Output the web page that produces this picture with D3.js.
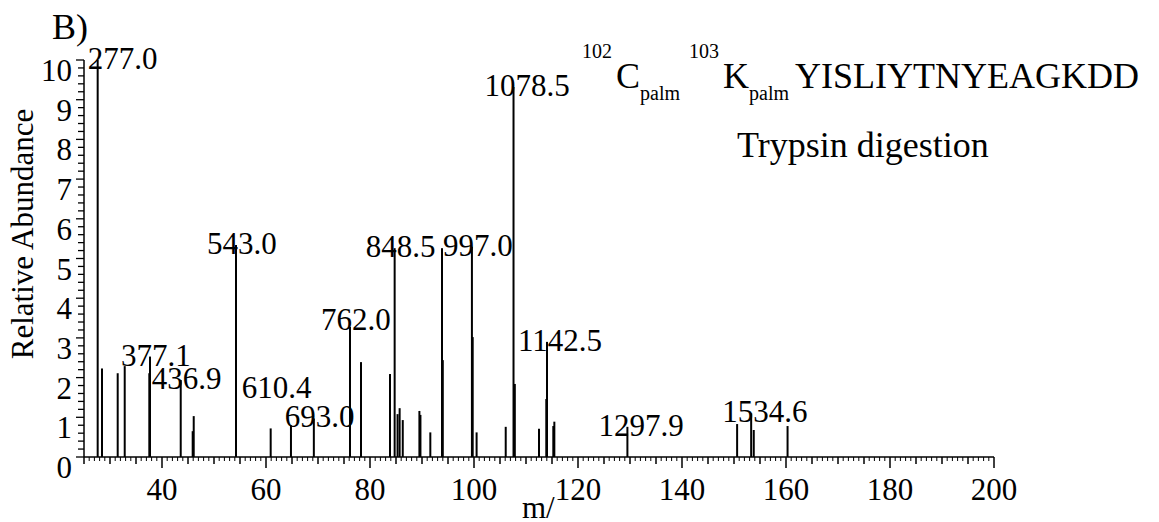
<!DOCTYPE html>
<html>
<head>
<meta charset="utf-8">
<script src="https://cdn.jsdelivr.net/npm/d3@7"></script>
<style>
  html, body { margin: 0; padding: 0; background: #fff; }
  svg text { font-family: "Liberation Serif", "DejaVu Serif", serif; }
</style>
</head>
<body>
<div id="chart"></div>
<script>
// peak positions on the x axis and their relative abundance
const peakX = [27.63, 28.46, 31.48, 32.83, 37.56, 37.69, 43.6, 45.9, 46.1, 54.23,
               60.9, 64.8, 69.2, 76.15, 78.27, 83.85, 84.74, 85.3, 85.7, 86.3,
               89.5, 89.7, 91.6, 93.85, 94.0, 99.6, 99.75, 100.5, 106.1, 107.6,
               107.85, 112.5, 113.9, 114.04, 115.25, 115.45, 129.5, 150.6, 153.3, 153.8,
               160.3];
const peakY = [10.0, 2.23, 2.11, 2.29, 2.11, 2.53, 1.94, 0.65, 1.03, 5.34,
               0.72, 0.8, 0.97, 3.28, 2.39, 2.09, 5.26, 1.08, 1.23, 0.93,
               1.16, 1.06, 0.62, 5.26, 2.44, 5.3, 3.02, 0.62, 0.76, 9.32,
               1.84, 0.71, 1.46, 2.9, 0.78, 0.89, 0.76, 0.83, 1.1, 0.68,
               0.78];

// annotated peaks: text and the peak they belong to
const labelText = ["277.0", "377.1", "436.9", "543.0", "610.4", "693.0", "762.0",
                   "848.5", "997.0", "1078.5", "1142.5", "1297.9", "1534.6"];
const labelPeak = [27.63, 37.69, 43.6, 54.23, 60.9, 69.2, 76.15,
                   84.74, 99.6, 107.6, 114.04, 129.5, 153.3];

const xTicks = [40, 60, 80, 100, 120, 140, 160, 180, 200];
const yTicks = [0, 1, 2, 3, 4, 5, 6, 7, 8, 9, 10];

const width = 1159;
const height = 522;
const margin = {top: 60, right: 165, bottom: 65, left: 84};
const serif = '"Liberation Serif", "DejaVu Serif", serif';

const svg = d3.select("#chart").append("svg")
    .attr("width", width)
    .attr("height", height)
    .attr("font-family", serif);

const x = d3.scaleLinear()
    .domain([25, 200])
    .range([margin.left, width - margin.right]);

const y = d3.scaleLinear()
    .domain([0, 10])
    .range([height - margin.bottom, margin.top]);

const y0 = y(0);

// axis lines
svg.append("line")
    .attr("x1", x(25)).attr("x2", x(200))
    .attr("y1", y0).attr("y2", y0)
    .attr("stroke", "#000").attr("stroke-width", 1.5);

svg.append("line")
    .attr("x1", x(25)).attr("x2", x(25))
    .attr("y1", y(10)).attr("y2", y0)
    .attr("stroke", "#000").attr("stroke-width", 1.5);

// x ticks: minor every 1, medium every 5, major every 20
const xMinor = d3.range(25, 201, 1);
svg.append("g").selectAll("line")
    .data(xMinor)
    .join("line")
    .attr("x1", d => x(d)).attr("x2", d => x(d))
    .attr("y1", y0)
    .attr("y2", d => y0 + (d % 20 === 0 ? 11 : d % 5 === 0 ? 7 : 4))
    .attr("stroke", "#000")
    .attr("stroke-width", d => d % 5 === 0 ? 1.5 : 1);

svg.append("g").selectAll("text")
    .data(xTicks)
    .join("text")
    .attr("x", d => x(d))
    .attr("y", y0 + 43)
    .attr("text-anchor", "middle")
    .attr("font-family", serif)
    .style("font-size", "31px")
    .text(d => d);

// y ticks: minor every 0.2, major every 1
const yMinor = d3.range(0, 51).map(i => i / 5);
svg.append("g").selectAll("line")
    .data(yMinor)
    .join("line")
    .attr("x1", d => x(25) - (Math.abs(d - Math.round(d)) < 1e-6 ? 8 : 6))
    .attr("x2", x(25))
    .attr("y1", d => y(d)).attr("y2", d => y(d))
    .attr("stroke", "#000")
    .attr("stroke-width", 1.3);

svg.append("g").selectAll("text")
    .data(yTicks)
    .join("text")
    .attr("x", x(25) - 12)
    .attr("y", d => y(d) + 21)
    .attr("text-anchor", "end")
    .attr("font-family", serif)
    .style("font-size", "31px")
    .text(d => d);

// peaks
svg.append("g").selectAll("line")
    .data(peakX.map((v, i) => ({mz: v, ab: peakY[i]})))
    .join("line")
    .attr("x1", d => x(d.mz)).attr("x2", d => x(d.mz))
    .attr("y1", y0)
    .attr("y2", d => y(d.ab))
    .attr("stroke", "#000")
    .attr("stroke-width", 2);

// peak labels; a few were moved by the original software to avoid overlaps
const nudge = {"277.0": [19, 0], "610.4": [0, -39], "762.0": [0, -6]};
svg.append("g").selectAll("text")
    .data(labelText.map((t, i) => ({t, mz: labelPeak[i], ab: peakY[peakX.indexOf(labelPeak[i])]})))
    .join("text")
    .attr("x", d => x(d.mz) - 29 + (nudge[d.t] ? nudge[d.t][0] : 0))
    .attr("y", d => y(d.ab) + 9 + (nudge[d.t] ? nudge[d.t][1] : 0))
    .attr("font-family", serif)
    .style("font-size", "31px")
    .text(d => d.t);

// axis titles
svg.append("text")
    .attr("x", 522)
    .attr("y", 518)
    .attr("font-family", serif)
    .style("font-size", "31px")
    .text("m/");

svg.append("text")
    .attr("transform", "translate(33,234) rotate(-90)")
    .attr("text-anchor", "middle")
    .attr("font-family", serif)
    .style("font-size", "31px")
    .text("Relative Abundance");

svg.append("text")
    .attr("x", 52)
    .attr("y", 39)
    .attr("font-family", serif)
    .style("font-size", "36px")
    .text("B)");

// peptide sequence with residue numbers and palmitoyl subscripts
const pep = svg.append("text")
    .attr("x", 582)
    .attr("y", 58)
    .attr("font-family", serif)
    .style("font-size", "36px");
pep.append("tspan").style("font-size", "20px").text("102");
pep.append("tspan").attr("dx", 4).attr("dy", 30).text("C");
pep.append("tspan").style("font-size", "20px").attr("dy", 12).text("palm");
pep.append("tspan").style("font-size", "20px").attr("dx", 9).attr("dy", -42).text("103");
pep.append("tspan").attr("dx", 4).attr("dy", 30).text("K");
pep.append("tspan").style("font-size", "20px").attr("dy", 12).text("palm");
pep.append("tspan").attr("dx", 6).attr("dy", -12).text("YISLIYTNYEAGKDD");

svg.append("text")
    .attr("x", 737)
    .attr("y", 157)
    .attr("font-family", serif)
    .style("font-size", "36px")
    .text("Trypsin digestion");
</script>
</body>
</html>
